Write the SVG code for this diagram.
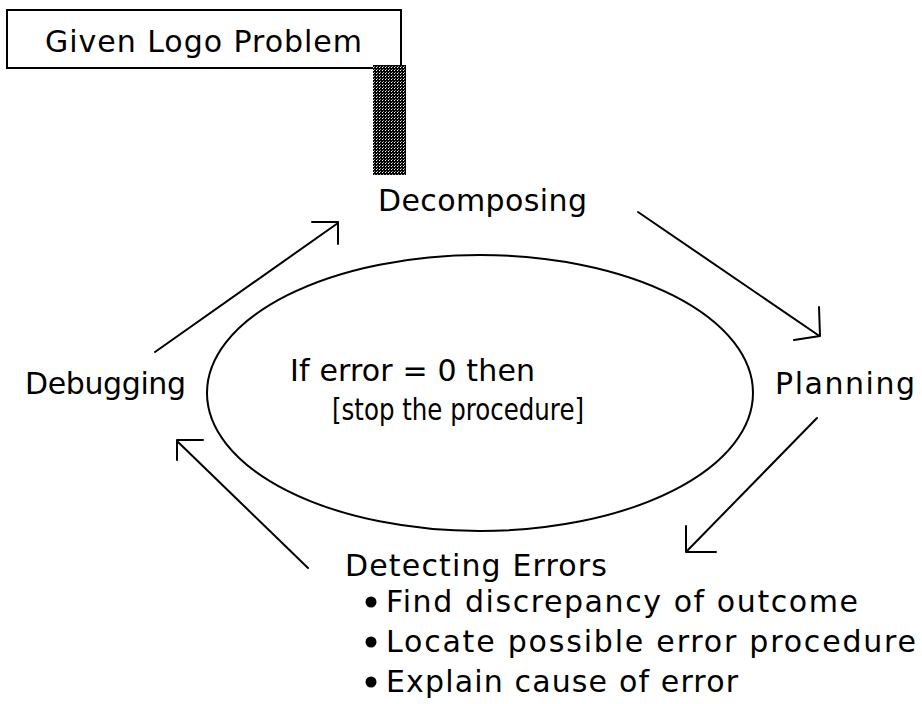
<svg xmlns="http://www.w3.org/2000/svg" width="922" height="704" viewBox="0 0 922 704">
<style>
text{font-family:"DejaVu Sans","Liberation Sans",sans-serif;font-size:30px;fill:#000}
.ln{stroke:#000;stroke-width:2;fill:none;stroke-linecap:round;stroke-linejoin:round}
</style>
<defs>
<pattern id="hatch" width="3" height="3" patternUnits="userSpaceOnUse">
<rect width="3" height="3" fill="#000"/>
<rect x="1" y="1" width="1" height="1" fill="#fff"/>
<rect x="2" y="0" width="1" height="1" fill="#999"/>
</pattern>
</defs>
<rect width="922" height="704" fill="#fff"/>
<g id="given">
<rect x="7" y="10" width="394" height="58" fill="#fff" stroke="#000" stroke-width="2"/>
<text x="45" y="52" textLength="317" lengthAdjust="spacing">Given Logo Problem</text>
</g>
<g id="bar">
<rect x="373" y="65" width="33" height="110" fill="url(#hatch)"/>
</g>
<g id="decomposing"><text x="378" y="211" textLength="209" lengthAdjust="spacing">Decomposing</text></g>
<g id="planning"><text x="775" y="394" textLength="140" lengthAdjust="spacing">Planning</text></g>
<g id="debugging"><text x="25" y="394" textLength="161" lengthAdjust="spacing">Debugging</text></g>
<g id="loop">
<ellipse cx="480" cy="393" rx="273" ry="138" class="ln"/>
<text x="290" y="381" textLength="245" lengthAdjust="spacing">If error = 0  then</text>
<text x="332" y="420" textLength="252" lengthAdjust="spacingAndGlyphs">[stop the procedure]</text>
</g>
<g id="detecting">
<text x="345" y="576" textLength="262" lengthAdjust="spacing">Detecting Errors</text>
<circle cx="371" cy="602" r="5.5"/>
<circle cx="371" cy="642" r="5.5"/>
<circle cx="371" cy="682" r="5.5"/>
<text x="386" y="612" textLength="472" lengthAdjust="spacing">Find discrepancy of outcome</text>
<text x="386" y="652" textLength="530" lengthAdjust="spacing">Locate possible error procedure</text>
<text x="386" y="692" textLength="352" lengthAdjust="spacing">Explain cause of error</text>
</g>
<g id="connectors">
<path class="ln" d="M155,352 L338,223 M312,222 L338,222 L338,244"/>
<path class="ln" d="M638,212 L818,335 M819,307 L820,336 L794,340"/>
<path class="ln" d="M817,418 L686,552 M686,526 L686,552 L716,552"/>
<path class="ln" d="M308,568 L177,441 M203,440 L177,440 L177,460"/>
</g>
</svg>
